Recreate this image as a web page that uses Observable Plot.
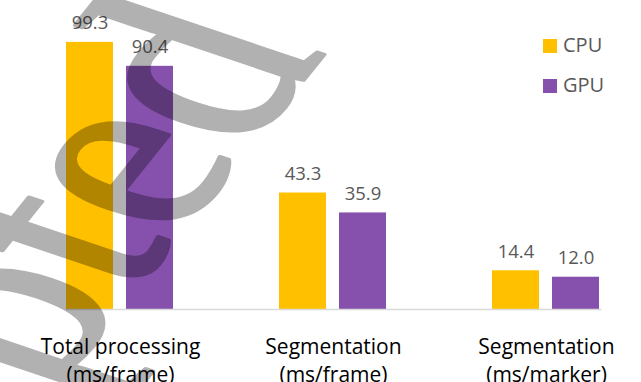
<!DOCTYPE html>
<html>
<head>
<meta charset="utf-8">
<script src="https://cdn.jsdelivr.net/npm/d3@7"></script>
<script src="https://cdn.jsdelivr.net/npm/@observablehq/plot@0.6"></script>
<style>
  html, body { margin: 0; padding: 0; background: #fff; overflow: hidden; width: 641px; height: 382px; }
  #wrap { position: relative; width: 641px; height: 382px; overflow: hidden; }
  #chart { position: absolute; left: 0; top: 0; }
  #chart svg { max-width: none !important; }
  .legend-item { position: absolute; font-family: "Open Sans", sans-serif; font-size: 20px; line-height: 20px; color: #595959; white-space: nowrap; }
  .swatch { position: absolute; width: 14px; height: 14px; }
  #wm { position: absolute; left: 0; top: 0; pointer-events: none; }
</style>
</head>
<body>
<div id="wrap">
  <div id="chart"></div>
  <div id="legend"></div>
  <svg id="wm" width="641" height="382"></svg>
</div>
<script>
const groups = ["Total processing\n(ms/frame)", "Segmentation\n(ms/frame)", "Segmentation\n(ms/marker)"];
const series = ["CPU", "GPU"];
const cpuValues = [99.3, 43.3, 14.4];
const gpuValues = [90.4, 35.9, 12.0];
const seriesColors = ["#FFC000", "#8551AD"];
const watermark = "Accepted";

const data = groups.flatMap((g, i) => [
  {group: g, series: "CPU", value: cpuValues[i]},
  {group: g, series: "GPU", value: gpuValues[i]}
]);

const chart = Plot.plot({
  width: 653,
  height: 382,
  marginLeft: 12,
  marginRight: 0,
  marginTop: 40,
  marginBottom: 73,
  style: {fontFamily: "Open Sans, sans-serif", background: "transparent", maxWidth: "none"},
  fx: {domain: groups, paddingInner: 0.494, paddingOuter: 0.247, label: null, axis: null},
  x: {domain: series, paddingInner: 0.215, paddingOuter: 0, axis: null},
  y: {domain: [0, 100], axis: null},
  color: {domain: series, range: seriesColors},
  marks: [
    Plot.barY(data, {fx: "group", x: "series", y: "value", fill: "series"}),
    Plot.text(data, {fx: "group", x: "series", y: "value", text: d => d.value.toFixed(1),
      lineAnchor: "bottom", dy: -13, fill: "#595959", fontSize: 18.5}),
    Plot.frame({facet: "super", anchor: "bottom", stroke: "#d9d9d9", strokeWidth: 1.5}),
    Plot.axisFx({anchor: "bottom", tickSize: 0, tickPadding: 25, lineAnchor: "top",
      fontSize: 21, lineHeight: 1.33, fill: "#000", label: null})
  ]
});
chart.style.maxWidth = "none";
document.getElementById("chart").appendChild(chart);

// legend
const legend = document.getElementById("legend");
series.forEach((s, i) => {
  const sw = document.createElement("div");
  sw.className = "swatch";
  sw.style.left = "543px";
  sw.style.top = (39 + i * 40) + "px";
  sw.style.background = seriesColors[i];
  legend.appendChild(sw);
  const t = document.createElement("div");
  t.className = "legend-item";
  t.style.left = "563px";
  t.style.top = (35 + i * 40) + "px";
  t.textContent = s;
  legend.appendChild(t);
});

// watermark (diagonal, squashed vertically), drawn as one translucent layer
const wm = d3.select("#wm").append("g").attr("opacity", 0.3);
wm.append("text")
  .attr("transform", "translate(326,52) scale(1,0.647) rotate(-62.5)")
  .attr("text-anchor", "end")
  .attr("font-family", "Liberation Serif, serif")
  .attr("font-size", 348)
  .attr("fill", "#000")
  .attr("stroke", "#000")
  .attr("stroke-width", 5)
  .attr("stroke-linejoin", "round")
  .text(watermark);
</script>
</body>
</html>
